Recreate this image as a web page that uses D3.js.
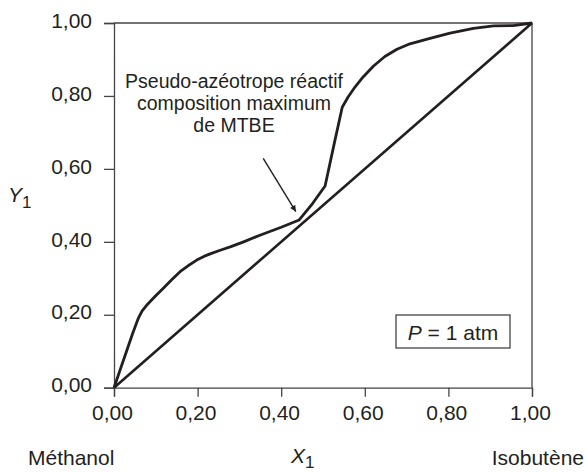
<!DOCTYPE html>
<html>
<head>
<meta charset="utf-8">
<script src="https://cdn.jsdelivr.net/npm/d3@7"></script>
<style>
  html, body { margin: 0; padding: 0; background: #fff; }
  svg { display: block; font-family: "Liberation Sans", Arial, sans-serif; }
</style>
</head>
<body>
<svg id="chart" width="585" height="472"></svg>
<script>
// ---- data ----
const curveX = [0, 0.015, 0.030, 0.045, 0.058, 0.067, 0.078, 0.098, 0.118, 0.138, 0.158, 0.178, 0.198, 0.215, 0.230, 0.254, 0.278, 0.310, 0.349, 0.400, 0.443, 0.475, 0.505, 0.527, 0.546, 0.560, 0.577, 0.596, 0.621, 0.648, 0.677, 0.708, 0.756, 0.804, 0.860, 0.908, 0.955, 1.0];
const curveY = [0, 0.050, 0.100, 0.150, 0.190, 0.210, 0.226, 0.250, 0.273, 0.296, 0.318, 0.335, 0.350, 0.360, 0.367, 0.377, 0.386, 0.400, 0.418, 0.440, 0.460, 0.505, 0.553, 0.670, 0.769, 0.797, 0.825, 0.852, 0.882, 0.908, 0.928, 0.943, 0.958, 0.972, 0.985, 0.992, 0.993, 1.0];
const diagX = [0, 1];
const diagY = [0, 1];
const tickValues = [0, 0.2, 0.4, 0.6, 0.8, 1.0];
const annotationLines = ["Pseudo-azéotrope réactif", "composition maximum", "de MTBE"];
const arrowFrom = [0.357, 0.629];
const arrowTo = [0.435, 0.483];

// ---- layout ----
const svg = d3.select("#chart");
const ink = "#231f20";
const x = d3.scaleLinear().domain([0, 1]).range([114, 532]);
const y = d3.scaleLinear().domain([0, 1]).range([387.7, 23]);
const fmt = d => d3.format(".2f")(d).replace(".", ",");

// frame (top and right)
svg.append("path")
  .attr("d", `M${x(0)},${y(1)}H${x(1)}V${y(0)}`)
  .attr("fill", "none").attr("stroke", "#444").attr("stroke-width", 1.3);

// x axis
const gx = svg.append("g").attr("transform", `translate(0,${y(0)})`)
  .call(d3.axisBottom(x).tickValues(tickValues).tickSize(9).tickPadding(8).tickFormat(fmt));
// y axis
const gy = svg.append("g").attr("transform", `translate(${x(0)},0)`)
  .call(d3.axisLeft(y).tickValues(tickValues).tickSize(10).tickPadding(12).tickFormat(fmt));
[gx, gy].forEach(g => {
  g.selectAll("path.domain").attr("stroke", "#444").attr("stroke-width", 1.3);
  g.selectAll(".tick line").attr("stroke", "#444").attr("stroke-width", 1.3);
  g.selectAll(".tick text").attr("fill", ink).style("font-size", "21px")
    .style("font-family", "'Liberation Sans', Arial, sans-serif");
});
gy.selectAll(".tick text").attr("dy", "0.2em");
gx.selectAll(".tick text").attr("dx", "-0.1em");

// diagonal
const line = d3.line().x(d => x(d[0])).y(d => y(d[1]));
svg.append("path")
  .attr("d", line(diagX.map((v, i) => [v, diagY[i]])))
  .attr("fill", "none").attr("stroke", ink).attr("stroke-width", 2.6);

// equilibrium curve
svg.append("path")
  .attr("d", line.curve(d3.curveLinear)(curveX.map((v, i) => [v, curveY[i]])))
  .attr("fill", "none").attr("stroke", ink).attr("stroke-width", 2.8)
  .attr("stroke-linejoin", "round");

// arrow
svg.append("defs").append("marker")
  .attr("id", "ah").attr("viewBox", "0 0 10 10").attr("refX", 10).attr("refY", 5)
  .attr("markerWidth", 9).attr("markerHeight", 6).attr("markerUnits", "userSpaceOnUse")
  .attr("orient", "auto")
  .append("path").attr("d", "M0,0L10,5L0,10Z").attr("fill", ink);
svg.append("line")
  .attr("x1", x(arrowFrom[0])).attr("y1", y(arrowFrom[1]))
  .attr("x2", x(arrowTo[0])).attr("y2", y(arrowTo[1]))
  .attr("stroke", ink).attr("stroke-width", 1.4).attr("marker-end", "url(#ah)");

// annotation text
svg.append("text").attr("text-anchor", "middle").attr("fill", ink)
  .style("font-size", "19.5px")
  .selectAll("tspan").data(annotationLines).join("tspan")
  .attr("x", 234).attr("y", (d, i) => 88 + i * 22).text(d => d);

// P = 1 atm box
svg.append("rect").attr("x", 396).attr("y", 315).attr("width", 114).attr("height", 33)
  .attr("fill", "#fff").attr("stroke", "#444").attr("stroke-width", 1.3);
const pt = svg.append("text").attr("x", 453).attr("y", 340).attr("text-anchor", "middle")
  .attr("fill", ink).style("font-size", "21px");
pt.append("tspan").style("font-style", "italic").text("P");
pt.append("tspan").text(" = 1 atm");

// axis titles
const yt = svg.append("text").attr("x", 8).attr("y", 202).attr("fill", ink).style("font-size", "21px");
yt.append("tspan").style("font-style", "italic").text("Y");
yt.append("tspan").attr("dy", 6).style("font-size", "17px").text("1");

const xt = svg.append("text").attr("x", 291).attr("y", 463).attr("fill", ink).style("font-size", "21px");
xt.append("tspan").style("font-style", "italic").text("X");
xt.append("tspan").attr("dy", 5).style("font-size", "17px").text("1");

svg.append("text").attr("x", 28).attr("y", 465).attr("fill", ink).style("font-size", "21px").text("Méthanol");
svg.append("text").attr("x", 584).attr("y", 465).attr("text-anchor", "end").attr("fill", ink).style("font-size", "21px").text("Isobutène");
</script>
</body>
</html>
